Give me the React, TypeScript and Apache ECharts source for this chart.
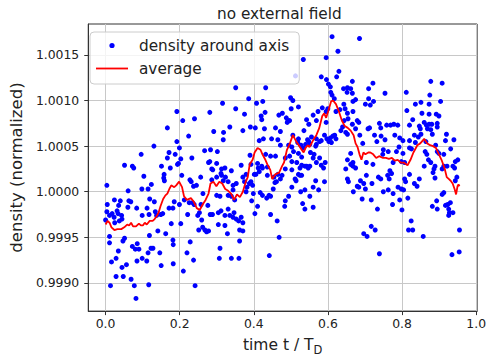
import React, { useEffect, useRef } from "react";
import * as echarts from "echarts";

const FONT = "DejaVu Sans";

const chartTitle = "no external field";
const scatterName = "density around axis";
const averageName = "average";
const xTicks = [0, 0.2, 0.4, 0.6, 0.8, 1.0];
const yTicks = [0.999, 0.9995, 1.0, 1.0005, 1.001, 1.0015];
const xRange = [-0.0468, 1.0026];
const yRange = [0.998691, 1.001839];

// [time t / T_D, density (normalized)]
const samples: [number, number][] = [
  [0.1923, 1.00088], [0.2812, 1.00087], [0.2082, 1.00078], [0.2399, 1.0008], [0.1667, 1.0007],
  [0.2241, 1.00061], [0.2918, 1.00066], [0.1923, 1.00055], [0.1304, 1.0005], [0.1992, 1.00048],
  [0.096, 1.00041], [0.1712, 1.00043], [0.1878, 1.00041], [0.2672, 1.00045], [0.2831, 1.00046],
  [0.3016, 1.00044], [0.1667, 1.00037], [0.2029, 1.00036], [0.2328, 1.00037], [0.2812, 1.00033],
  [0.2997, 1.00031], [0.1966, 1.00031], [0.1939, 1.0003], [0.0511, 1.00029], [0.0722, 1.00028],
  [0.0759, 1.00026], [0.1508, 1.00028], [0.1746, 1.00026],
  [0.6111, 1.0017], [0.627, 1.00154], [0.5952, 1.00147], [0.5336, 1.00145], [0.6296, 1.00132],
  [0.6235, 1.00126], [0.582, 1.00126], [0.596, 1.00123], [0.6659, 1.00121], [0.6013, 1.00118],
  [0.6066, 1.00115], [0.6077, 1.00109], [0.6111, 1.00106], [0.6421, 1.00113], [0.6526, 1.00114],
  [0.6614, 1.00113], [0.6659, 1.00108], [0.6516, 1.00109], [0.5124, 1.00127], [0.3511, 1.00114],
  [0.432, 1.00114], [0.3862, 1.00102], [0.3156, 1.00097], [0.4074, 1.00097], [0.4241, 1.00099],
  [0.4992, 1.00103], [0.5053, 1.001], [0.3511, 1.00091], [0.3749, 1.00085], [0.4304, 1.00087],
  [0.4198, 1.00083], [0.4214, 1.00079], [0.4675, 1.00084], [0.477, 1.00086], [0.4876, 1.00081],
  [0.4921, 1.00078], [0.4966, 1.00078], [0.4902, 1.00076], [0.5423, 1.00079], [0.5601, 1.00084],
  [0.5733, 1.00088], [0.5847, 1.00092], [0.5952, 1.00088], [0.5997, 1.00091], [0.6217, 1.00088],
  [0.6323, 1.0009], [0.6429, 1.00096], [0.6463, 1.00091], [0.6526, 1.00086], [0.6675, 1.00099],
  [0.6675, 1.00088], [0.3352, 1.00071], [0.3183, 1.00065], [0.3175, 1.00057], [0.3704, 1.00067],
  [0.3907, 1.00071], [0.404, 1.0007], [0.4286, 1.00069], [0.4585, 1.0007], [0.4717, 1.00066],
  [0.5053, 1.00062], [0.5352, 1.00067], [0.5484, 1.00074], [0.545, 1.00057], [0.5484, 1.00055],
  [0.5511, 1.00052], [0.5688, 1.00052], [0.5775, 1.00055], [0.5907, 1.00062], [0.5971, 1.00058],
  [0.6024, 1.00055], [0.6066, 1.00059], [0.613, 1.00061], [0.6183, 1.00062], [0.6217, 1.00058],
  [0.6093, 1.00054], [0.6349, 1.00067], [0.6394, 1.00071], [0.4146, 1.00056], [0.4259, 1.00058],
  [0.4479, 1.00058], [0.4648, 1.00057], [0.5185, 1.00054], [0.5272, 1.00051], [0.5336, 1.00048],
  [0.5397, 1.00052], [0.5529, 1.00043], [0.5627, 1.00041], [0.5601, 1.00037], [0.432, 1.00041],
  [0.4452, 1.00039], [0.4585, 1.00039], [0.3897, 1.0004], [0.3659, 1.00029], [0.4101, 1.00031],
  [0.4214, 1.00028], [0.4849, 1.00037], [0.4966, 1.00039], [0.5026, 1.00033], [0.5159, 1.00032],
  [0.5291, 1.00029], [0.5423, 1.00028], [0.582, 1.00029], [0.5881, 1.00026], [0.6526, 1.00035],
  [0.6614, 1.0003], [0.6675, 1.00028], [0.6437, 1.00078], [0.6542, 1.0008], [0.6659, 1.00074],
  [0.6481, 1.00065], [0.6526, 1.00063],
  [0.6852, 1.00168], [0.7214, 1.00119], [0.7098, 1.00113], [0.754, 1.00108], [0.6746, 1.00101],
  [0.7011, 1.00096], [0.7143, 1.00095], [0.7098, 1.00102], [0.723, 1.00099], [0.6791, 1.00078],
  [0.6833, 1.00076], [0.7082, 1.00069], [0.7124, 1.0007], [0.7389, 1.00075], [0.7426, 1.0007],
  [0.7585, 1.00073], [0.769, 1.00073], [0.7778, 1.00074], [0.7884, 1.00073], [0.7257, 1.00062],
  [0.732, 1.00055], [0.6939, 1.00053], [0.7434, 1.00061], [0.754, 1.00057], [0.7804, 1.00062],
  [0.7937, 1.00059], [0.8024, 1.00056], [0.7495, 1.00046], [0.7627, 1.00044], [0.7479, 1.00041],
  [0.7849, 1.00044], [0.7918, 1.00049], [0.8201, 1.00048], [0.8254, 1.00047], [0.6614, 1.00042],
  [0.6675, 1.00032], [0.7214, 1.0003], [0.8024, 1.00042], [0.8069, 1.00032], [0.8114, 1.00109],
  [0.813, 1.00089], [0.8201, 1.00073], [0.836, 1.00096], [0.851, 1.00098], [0.8537, 1.00086],
  [0.873, 1.00096], [0.8775, 1.00121], [0.9082, 1.00119], [0.904, 1.00099], [0.8288, 1.00079],
  [0.8466, 1.00072], [0.8598, 1.00076], [0.8659, 1.00073], [0.873, 1.00074], [0.8802, 1.00074],
  [0.895, 1.00071], [0.8923, 1.00085], [0.8995, 1.00083], [0.8333, 1.00062], [0.8439, 1.0006],
  [0.8492, 1.00069], [0.851, 1.00063], [0.8775, 1.00068], [0.8817, 1.00063], [0.8624, 1.00044],
  [0.8669, 1.00041], [0.8712, 1.00035], [0.8775, 1.00032], [0.895, 1.00044], [0.8995, 1.00042],
  [0.9127, 1.00041], [0.9198, 1.00063], [0.9172, 1.00056], [0.9399, 1.00057], [0.9312, 1.00047],
  [0.9437, 1.00033], [0.9505, 1.00035], [0.8889, 1.00028], [0.9127, 1.00028], [0.8598, 1.00028],
  [0.6746, 1.00026],
  [0.322, 1.00026], [0.313, 1.00018], [0.3235, 1.00016], [0.3114, 1.0002], [0.3439, 1.00007],
  [0.3439, 1.00002], [0.3394, 0.99995], [0.3484, 0.99991], [0.3307, 0.99996], [0.3087, 0.99995],
  [0.4013, 1.00019], [0.4119, 1.00026], [0.4146, 1.00022], [0.3817, 1.00005], [0.3881, 1.00009],
  [0.3791, 1.0], [0.3923, 1.00011], [0.3987, 0.99998], [0.3942, 0.9999], [0.4172, 0.99999],
  [0.4233, 0.99996], [0.4347, 0.99993], [0.441, 0.99996], [0.4452, 0.99995], [0.4101, 0.99984],
  [0.4029, 0.99976], [0.4524, 1.00003], [0.4611, 1.00011], [0.4648, 1.00019], [0.4717, 1.00014],
  [0.4542, 1.00016], [0.4849, 1.00025], [0.5026, 1.00024], [0.5246, 1.00026], [0.5246, 1.00018],
  [0.5114, 1.00014], [0.514, 1.00012], [0.5291, 1.00018], [0.4939, 0.99995], [0.4849, 0.9999],
  [0.4833, 0.99984], [0.5265, 1.0], [0.5378, 1.00002], [0.5511, 0.99995], [0.5601, 0.99983],
  [0.5317, 0.99987], [0.5378, 0.99981], [0.5669, 1.00012], [0.5907, 1.00011], [0.5511, 1.00028],
  [0.4452, 0.99975], [0.463, 0.99968], [0.4683, 0.9995], [0.4418, 0.9993], [0.3042, 0.99977],
  [0.3114, 0.99979], [0.322, 0.99974], [0.3307, 0.99981], [0.322, 0.99963], [0.3288, 0.99954],
  [0.3352, 0.99974], [0.3439, 0.99972], [0.3466, 0.99977], [0.3526, 0.9997], [0.359, 0.99968],
  [0.3659, 0.99972], [0.3704, 0.99966], [0.3616, 0.99958], [0.3704, 0.99957], [0.3616, 0.99946],
  [0.3042, 0.99964], [0.3087, 0.99938], [0.3069, 0.99927], [0.3394, 0.99927], [0.3598, 0.99927],
  [0.6481, 1.00025], [0.6526, 1.00014], [0.6553, 1.00011], [0.6685, 1.0],
  [0.7672, 1.00023], [0.7717, 1.0002], [0.7653, 1.00014], [0.7611, 1.00018], [0.7362, 1.00016],
  [0.7426, 1.00014], [0.6878, 1.00012], [0.6966, 1.00009], [0.7011, 1.00003], [0.6791, 1.00006],
  [0.6833, 1.00005], [0.7037, 1.00018], [0.7188, 1.00009], [0.7495, 1.0], [0.7627, 1.00002],
  [0.7759, 0.99998], [0.7892, 1.00005], [0.7981, 1.00003], [0.8042, 1.00002], [0.8156, 0.99993],
  [0.8069, 1.00014], [0.8095, 1.00011], [0.8201, 1.00019], [0.8333, 1.00009], [0.8405, 1.00006],
  [0.8466, 1.00014], [0.8862, 1.00025], [0.8836, 1.00021], [0.8889, 1.00015], [0.9082, 1.00025],
  [0.9373, 1.00028], [0.9418, 1.00026], [0.9479, 1.00016], [0.9437, 1.00012], [0.6923, 0.99992],
  [0.7169, 0.99991], [0.7336, 0.99981], [0.7743, 0.99986], [0.7937, 0.99991], [0.7997, 0.9998],
  [0.8817, 0.99984], [0.895, 0.99981], [0.8934, 0.9999], [0.9082, 0.99997], [0.9127, 0.99999],
  [0.9172, 0.99985], [0.9233, 0.99986], [0.9304, 0.99988], [0.9259, 0.99981], [0.9278, 0.99977],
  [0.9259, 0.99974], [0.9373, 0.99977], [0.7169, 0.99962], [0.7275, 0.99958], [0.6966, 0.99954],
  [0.7056, 0.99951], [0.8246, 0.99968], [0.8175, 0.99958], [0.8288, 0.99958], [0.8571, 0.99951],
  [0.955, 0.99958], [0.7389, 0.99932], [0.9347, 0.99931], [0.9542, 0.99934],
  [0.2892, 1.00024], [0.1032, 1.00017], [0.1579, 1.00019], [0.1569, 1.00015], [0.1587, 1.00012],
  [0.2056, 1.00018], [0.2275, 1.00013], [0.231, 1.00011], [0.2566, 1.00016], [0.2865, 1.00013],
  [0.0034, 1.00007], [0.0608, 1.00001], [0.0979, 1.00003], [0.1146, 1.00003], [0.1235, 1.00008],
  [0.2373, 1.00006], [0.2452, 1.00007], [0.2627, 0.99998], [0.2997, 0.99996], [0.0238, 0.99991],
  [0.0397, 0.9999], [0.0627, 0.9999], [0.068, 0.99989], [0.0045, 0.99986], [0.0352, 0.99985],
  [0.0601, 0.99983], [0.0839, 0.99982], [0.1119, 0.99982], [0.119, 0.99992], [0.1315, 0.99989],
  [0.1712, 0.99982], [0.1817, 0.99982], [0.1852, 0.99989], [0.1992, 0.99986], [0.2124, 0.99991],
  [0.2257, 0.99988], [0.2347, 0.99988], [0.2389, 0.99986], [0.2574, 0.99986], [0.1542, 0.99976],
  [0.2759, 0.99985], [0.2823, 0.99975], [0.2884, 0.99975], [0.0034, 0.99978], [0.0106, 0.99974],
  [0.0177, 0.99976], [0.031, 0.99979], [0.0336, 0.99976], [0.023, 0.99972], [0.0431, 0.99974],
  [0.0, 0.99969], [0.037, 0.99968], [0.0442, 0.9997], [0.0246, 0.99966], [0.0987, 0.99974],
  [0.1172, 0.99975], [0.1341, 0.99978], [0.1376, 0.99974], [0.1489, 0.99975], [0.1772, 0.99965],
  [0.2029, 0.99965], [0.2214, 0.99975], [0.2487, 0.99974], [0.2532, 0.99977], [0.2593, 0.99969],
  [0.2513, 0.99958], [0.2619, 0.99961], [0.268, 0.99958], [0.2725, 0.99956], [0.2778, 0.99957],
  [0.0106, 0.99951], [0.0106, 0.99944], [0.1183, 0.99952], [0.141, 0.99957], [0.1622, 0.99954],
  [0.1817, 0.99947], [0.0511, 0.99949], [0.0468, 0.99946], [0.0722, 0.9994], [0.0854, 0.99943],
  [0.0899, 0.99937], [0.0802, 0.99937], [0.0344, 0.99935], [0.1146, 0.99933], [0.1225, 0.99938],
  [0.1278, 0.99938], [0.1463, 0.99933], [0.1825, 0.99942], [0.2196, 0.99933], [0.2283, 0.99945],
  [0.0159, 0.99923], [0.0283, 0.99927], [0.0563, 0.9992], [0.0442, 0.99917], [0.0847, 0.99924],
  [0.0987, 0.99927], [0.1111, 0.99924], [0.15, 0.99919], [0.1825, 0.99921], [0.2098, 0.99913],
  [0.2373, 0.99925], [0.0283, 0.99907], [0.0476, 0.99907], [0.0688, 0.99904], [0.0132, 0.99897],
  [0.0775, 0.99897], [0.1164, 0.99898], [0.2415, 0.99897], [0.082, 0.99883],
  [0.5204, 1.00093], [0.5008, 1.00091], [0.5688, 1.00078], [0.5952, 1.00076], [0.5556, 1.0006],
  [0.5688, 1.00058], [0.5669, 1.0005], [0.582, 1.00056], [0.4717, 1.00051], [0.4939, 1.00051],
  [0.5204, 1.00058], [0.5071, 1.00044], [0.5026, 1.00049], [0.5204, 1.00042], [0.5291, 1.00038],
  [0.5688, 1.00032], [0.5775, 1.00037], [0.5926, 1.00032], [0.5204, 1.00019], [0.5378, 1.00028],
  [0.5468, 1.00026], [0.2778, 1.00032], [0.2865, 1.00025], [0.313, 1.00025], [0.3923, 1.0003],
  [0.4056, 1.00019], [0.4233, 1.00026], [0.4365, 1.00027], [0.3394, 1.00023], [0.3791, 1.00019],
  [0.3704, 1.00016], [0.4365, 1.00018], [0.4762, 1.00018], [0.2997, 1.00016], [0.3175, 1.00012],
  [0.3307, 1.00011], [0.3526, 1.00009], [0.3749, 1.00011], [0.3968, 1.00007], [0.4569, 1.0001],
  [0.5026, 1.00005], [0.5601, 1.00005], [0.5749, 1.00002],
  [0.8749, 1.00106], [0.686, 1.00062], [0.6746, 1.00069], [0.8201, 1.00056], [0.836, 1.00054],
  [0.8643, 1.00055], [0.8907, 1.00051], [0.7037, 1.00032], [0.7759, 1.00032], [0.7981, 1.00033],
  [0.9214, 1.00028], [0.6172, 1.00102], [0.873, 1.00085], [0.8685, 1.00069], [0.895, 1.00075],
];

const avgT = [
  0, 0.0053, 0.0106, 0.0159, 0.0238, 0.0317, 0.0423, 0.0503, 0.0582, 0.0635, 0.0688, 0.0741, 0.082,
  0.0899, 0.0952, 0.1005, 0.1058, 0.1111, 0.119, 0.127, 0.1323, 0.1376, 0.1429, 0.1481, 0.1553,
  0.1614, 0.1667, 0.172, 0.1772, 0.1852, 0.1905, 0.1984, 0.2063, 0.2116, 0.2196, 0.2302, 0.2381,
  0.246, 0.254, 0.2619, 0.2698, 0.2778, 0.2831, 0.291, 0.2989, 0.3069, 0.3148, 0.3228, 0.3307,
  0.3386, 0.3466, 0.3545, 0.3624, 0.3704, 0.3783, 0.3836, 0.3889, 0.3968, 0.4021, 0.4101, 0.418,
  0.4233, 0.4312, 0.4365, 0.4444, 0.4497, 0.4577, 0.4683, 0.4762, 0.4815, 0.4894, 0.4974, 0.5053,
  0.5132, 0.5212, 0.5291, 0.5344, 0.5397, 0.545, 0.5503, 0.5556, 0.5635, 0.5688, 0.5767, 0.5847,
  0.5899, 0.5952, 0.6005, 0.6085, 0.6138, 0.6217, 0.6296, 0.6376, 0.6455, 0.6534, 0.6614, 0.6693,
  0.6746, 0.6799, 0.6852, 0.6905, 0.6958, 0.7011, 0.709, 0.7143, 0.7222, 0.7302, 0.7381, 0.7487,
  0.7566, 0.7646, 0.7725, 0.7804, 0.7884, 0.7963, 0.8042, 0.8148, 0.8228, 0.8307, 0.8413, 0.8492,
  0.8598, 0.8677, 0.8757, 0.8836, 0.8915, 0.8995, 0.9074, 0.9153, 0.9206, 0.9259, 0.9312, 0.9365,
  0.9418, 0.9458, 0.9497, 0.9524, 0.955,
];

const avgV = [
  0.99964, 0.99968, 0.99966, 0.99961, 0.99958, 0.99959, 0.99959, 0.99961, 0.99964, 0.99963, 0.99966,
  0.99962, 0.99962, 0.99965, 0.99963, 0.99963, 0.99966, 0.99964, 0.99968, 0.99968, 0.9997, 0.99973,
  0.99977, 0.99984, 0.99992, 0.99996, 0.99998, 1.00003, 1.00007, 1.00005, 1.00007, 1.00011, 1.00005,
  0.99995, 0.99991, 0.99993, 0.99989, 0.99982, 0.9998, 0.99986, 0.99991, 0.99998, 1.00009, 1.00011,
  1.00006, 1.00011, 1.00009, 1.00003, 1.00001, 0.99998, 0.99991, 0.99997, 0.99994, 1.0, 1.00011,
  1.00016, 1.0003, 1.00035, 1.00043, 1.00048, 1.00046, 1.00041, 1.00035, 1.0003, 1.00024, 1.00014,
  1.00019, 1.00021, 1.00028, 1.00032, 1.00046, 1.00053, 1.00062, 1.00056, 1.00051, 1.00046, 1.00043,
  1.00048, 1.00051, 1.00049, 1.00053, 1.00059, 1.00062, 1.0007, 1.00083, 1.00086, 1.00081, 1.00088,
  1.00099, 1.001, 1.00096, 1.00088, 1.00078, 1.00072, 1.0007, 1.00067, 1.00062, 1.00053, 1.00049,
  1.00041, 1.00035, 1.00043, 1.00041, 1.00043, 1.00043, 1.00041, 1.00037, 1.00039, 1.00037, 1.00037,
  1.00036, 1.00037, 1.00034, 1.00035, 1.00032, 1.00032, 1.00029, 1.00035, 1.00043, 1.00051, 1.00053,
  1.00058, 1.00053, 1.00051, 1.0005, 1.00048, 1.00041, 1.00034, 1.00025, 1.00016, 1.00014, 1.00012,
  1.00009, 1.00003, 0.99997, 1.00006, 1.00008, 1.00006,
];

export default function App() {
  const ref = useRef<HTMLDivElement>(null);

  useEffect(() => {
    if (!ref.current) return;
    const chart = echarts.init(ref.current, undefined, { renderer: "svg" });
    const axisColor = "#333333";
    const textColor = "#222222";
    chart.setOption({
      animation: false,
      backgroundColor: "#ffffff",
      title: {
        text: chartTitle,
        left: 217,
        top: 6,
        padding: 0,
        textStyle: { fontFamily: FONT, fontSize: 15.3, fontWeight: "normal", color: textColor },
      },
      legend: {
        orient: "vertical",
        left: 90,
        top: 32,
        padding: [6, 10, 8, 6],
        itemWidth: 32,
        itemHeight: 14,
        itemGap: 8,
        backgroundColor: "rgba(255,255,255,0.8)",
        borderColor: "#cccccc",
        borderWidth: 1,
        borderRadius: 4,
        textStyle: { fontFamily: FONT, fontSize: 15.3, color: textColor, padding: [0, 0, 0, 6] },
        data: [
          {
            name: scatterName,
            icon: "path://M0 0M32 14M13.4 7a2.6 2.6 0 1 0 5.2 0a2.6 2.6 0 1 0 -5.2 0z",
          },
          {
            name: averageName,
            icon: "path://M0 0M32 14M0 6.1L32 6.1L32 7.9L0 7.9Z",
          },
        ],
      },
      grid: {
        left: 82,
        right: 10,
        top: 24,
        bottom: 39,
        show: true,
        borderColor: axisColor,
        borderWidth: 1,
      },
      xAxis: {
        type: "value",
        min: xRange[0],
        max: xRange[1],
        name: "time t / T{sub|D}",
        nameLocation: "middle",
        nameGap: 19,
        nameTextStyle: {
          fontFamily: FONT,
          fontSize: 15.5,
          color: textColor,
          lineHeight: 22,
          rich: {
            sub: { fontFamily: FONT, fontSize: 11.5, color: textColor, lineHeight: 10, verticalAlign: "bottom" },
          },
        },
        axisLine: { show: true, onZero: false, lineStyle: { color: axisColor, width: 1 } },
        axisTick: { show: true, length: 4, lineStyle: { color: axisColor }, customValues: xTicks },
        axisLabel: {
          customValues: xTicks,
          formatter: (v: number) => v.toFixed(1),
          fontFamily: FONT,
          fontSize: 12.4,
          color: textColor,
          margin: 6,
        },
        splitLine: { show: true, lineStyle: { color: "#c8c8c8", width: 1 } },
      },
      yAxis: {
        type: "value",
        min: yRange[0],
        max: yRange[1],
        name: "density (normalized)",
        nameLocation: "middle",
        nameGap: 55,
        nameTextStyle: { fontFamily: FONT, fontSize: 16.5, color: textColor },
        axisLine: { show: true, onZero: false, lineStyle: { color: axisColor, width: 1 } },
        axisTick: { show: true, length: 4, lineStyle: { color: axisColor }, customValues: yTicks },
        axisLabel: {
          customValues: yTicks,
          formatter: (v: number) => v.toFixed(4),
          fontFamily: FONT,
          fontSize: 12.4,
          color: textColor,
          margin: 9,
        },
        splitLine: { show: true, lineStyle: { color: "#c8c8c8", width: 1 } },
      },
      series: [
        {
          name: scatterName,
          type: "scatter",
          symbol: "circle",
          symbolSize: 5,
          itemStyle: { color: "#0000ff", opacity: 1 },
          data: samples,
          z: 2,
        },
        {
          name: averageName,
          type: "line",
          symbol: "none",
          lineStyle: { color: "#ff0000", width: 1.8 },
          itemStyle: { color: "#ff0000" },
          data: avgT.map((t, i) => [t, avgV[i]]),
          z: 3,
        },
      ],
    });
    return () => chart.dispose();
  }, []);

  return (
    <div
      ref={ref}
      style={{ position: "fixed", left: 0, top: 0, width: 489, height: 361, background: "#fff" }}
    />
  );
}
